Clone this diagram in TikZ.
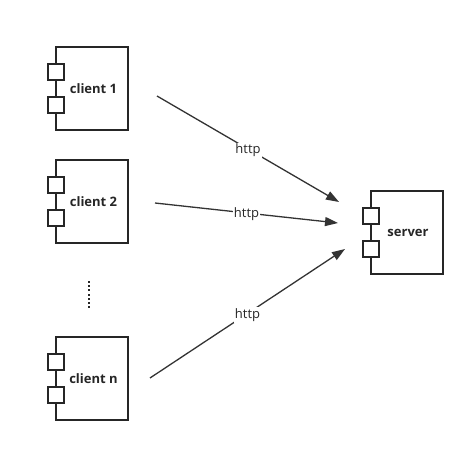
\documentclass[tikz,border=0pt]{standalone}
\usepackage{fontspec}
\setmainfont{Open Sans}
\usetikzlibrary{arrows.meta}
\begin{document}
\begin{tikzpicture}[x=1pt,y=-1pt,
  comp/.style={draw=black!85,line width=1.4pt,fill=white},
  port/.style={draw=black!85,line width=1.6pt,fill=white,minimum size=16pt,inner sep=0pt,outer sep=0pt,anchor=north west},
  lbl/.style={font=\bfseries\fontsize{13}{15}\selectfont,text=black!85},
  conn/.style={draw=black!80,line width=1.3pt,-{Triangle[length=13pt,width=9pt]}},
  httpl/.style={font=\fontsize{13}{15}\selectfont,text=black!85,fill=white,inner sep=1pt,yshift=-1.5pt}]
\useasboundingbox (0,0) rectangle (475,452);
% clients
\foreach \n/\y/\t in {c1/47/client 1,c2/160/client 2,cn/337/client n}{
  \draw[comp] (56,\y) rectangle ++(72,83);
  \node[port] at (48,\y+17) {};
  \node[port] at (48,\y+50) {};
  \node[lbl] (\n) at (93.5,\y+42) {\t};
}
% server
\draw[comp] (371,191) rectangle ++(72,83);
\node[port] at (363,208) {};
\node[port] at (363,241) {};
\node[lbl] (srv) at (408,233) {server};
% anchors
\coordinate (a1) at (157,96);  \coordinate (b1) at (339,202);
\coordinate (a2) at (155,203); \coordinate (b2) at (338,223);
\coordinate (an) at (150,378); \coordinate (bn) at (345,249);
\draw[conn] (a1) -- node[httpl,pos=0.5] {http} (b1);
\draw[conn] (a2) -- node[httpl,pos=0.5] {http} (b2);
\draw[conn] (an) -- node[httpl,pos=0.5] {http} (bn);
% dots
\foreach \k in {0,...,6}{
  \fill[black!85] (88,281+4.2*\k) rectangle ++(2,2);
}
\end{tikzpicture}
\end{document}
